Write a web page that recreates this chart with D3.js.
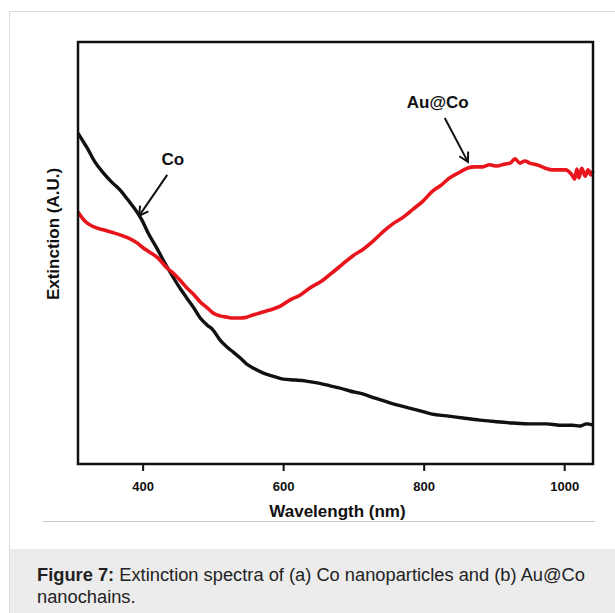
<!DOCTYPE html>
<head>
    <meta charset="utf-8">
    <script src="https://d3js.org/d3.v7.min.js"></script>
    <style>
      body { margin: 0; background: #fff; }
      text { font-family: "Liberation Sans", Arial, sans-serif; fill: #111; }
      .ticklabel { font-size: 13px; font-weight: bold; }
      .axistitle { font-size: 17px; font-weight: bold; }
      .annot { font-size: 17px; font-weight: bold; }
      .caption { font-size: 18.3px; fill: #222; }
    </style>
<body>
    <script>
        // wavelength (nm) and extinction (A.U.)
        var coWave = [308,315,321,332,344,356,368,379,392,399,408,420,430,440,453,463,472,482,492,500,510,520,529,539,548,560,571,584,600,617,631,642,655,667,681,695,713,731,748,762,778,795,812,833,856,880,904,927,951,975,994,1012,1022,1032,1041]
        var coExt = [0.784,0.765,0.749,0.716,0.690,0.668,0.649,0.626,0.597,0.578,0.547,0.512,0.481,0.452,0.417,0.393,0.372,0.346,0.329,0.318,0.294,0.277,0.265,0.251,0.237,0.225,0.216,0.209,0.201,0.199,0.197,0.194,0.190,0.185,0.180,0.173,0.166,0.156,0.147,0.140,0.133,0.126,0.118,0.114,0.109,0.104,0.100,0.097,0.095,0.095,0.092,0.092,0.090,0.095,0.092]

        var auWave = [308,318,329,344,356,368,380,392,401,410,422,435,443,453,463,472,482,492,500,510,520,529,539,548,557,567,581,596,610,624,638,657,671,685,699,714,728,742,756,771,785,799,813,825,837,852,862,873,883,894,904,916,923,930,937,944,951,961,973,984,994,1002,1011,1015,1018,1021,1025,1030,1034,1038,1041]
        var auExt = [0.597,0.575,0.563,0.555,0.549,0.543,0.535,0.524,0.512,0.502,0.488,0.464,0.453,0.436,0.417,0.403,0.384,0.370,0.358,0.351,0.348,0.346,0.346,0.348,0.353,0.358,0.365,0.374,0.389,0.400,0.417,0.436,0.455,0.474,0.493,0.509,0.528,0.550,0.569,0.585,0.604,0.623,0.647,0.661,0.678,0.692,0.701,0.704,0.704,0.709,0.706,0.711,0.713,0.723,0.713,0.718,0.713,0.709,0.701,0.697,0.697,0.697,0.685,0.675,0.699,0.678,0.701,0.682,0.697,0.685,0.695]

        var xTicks = [400, 600, 800, 1000]

        // annotations: label text, label anchor, arrow start, arrow tip (wavelength, A.U.)
        var labels = ["Co", "Au@Co"]
        var labelPos = [[443, 0.708], [820, 0.843]]
        var arrowFrom = [[435, 0.685], [830, 0.820]]
        var arrowTo = [[395, 0.588], [863, 0.716]]

        var svg = d3.select("body").append("svg")
          .attr("width", 615)
          .attr("height", 613)

        // card outline and caption panel
        svg.append("rect")
          .attr("x", 9.5).attr("y", 11.5)
          .attr("width", 700).attr("height", 700)
          .attr("fill", "none")
          .attr("stroke", "#dcdcdc")
        svg.append("rect")
          .attr("x", 10).attr("y", 549)
          .attr("width", 605).attr("height", 64)
          .attr("fill", "#ececec")
        svg.append("line")
          .attr("x1", 43).attr("x2", 595)
          .attr("y1", 521.5).attr("y2", 521.5)
          .attr("stroke", "#c8c8c8")

        var plotLeft = 78, plotRight = 593, plotTop = 42, plotBottom = 464

        var x = d3.scaleLinear().domain([308, 1041]).range([plotLeft, plotRight])
        var y = d3.scaleLinear().domain([0, 1]).range([plotBottom, plotTop])

        var line = d3.line()
          .x(function(d) { return x(d[0]) })
          .y(function(d) { return y(d[1]) })
          .curve(d3.curveMonotoneX)

        var plot = svg.append("g")

        plot.append("path")
          .datum(coWave.map(function(w, i) { return [w, coExt[i]] }))
          .attr("d", line)
          .attr("fill", "none")
          .attr("stroke", "#111")
          .attr("stroke-width", 3.4)
          .attr("stroke-linejoin", "round")

        plot.append("path")
          .datum(auWave.map(function(w, i) { return [w, auExt[i]] }))
          .attr("d", line)
          .attr("fill", "none")
          .attr("stroke", "#e8161c")
          .attr("stroke-width", 3.6)
          .attr("stroke-linejoin", "round")

        // frame
        svg.append("rect")
          .attr("x", plotLeft).attr("y", plotTop)
          .attr("width", plotRight - plotLeft).attr("height", plotBottom - plotTop)
          .attr("fill", "none")
          .attr("stroke", "#111")
          .attr("stroke-width", 2.5)

        var xAxis = svg.append("g")
          .attr("transform", "translate(0," + (plotBottom + 1) + ")")
          .call(d3.axisBottom(x).tickValues(xTicks).tickFormat(d3.format("d")).tickSize(6).tickPadding(11))
        xAxis.select(".domain").remove()
        xAxis.selectAll(".tick line").attr("stroke", "#111").attr("stroke-width", 2)
        xAxis.selectAll(".tick text")
          .classed("ticklabel", true)
          .attr("fill", null)
        xAxis.attr("font-family", null).attr("font-size", null)

        svg.append("text")
          .classed("axistitle", true)
          .attr("x", (plotLeft + plotRight) / 2 + 2)
          .attr("y", 517)
          .attr("text-anchor", "middle")
          .text("Wavelength (nm)")

        svg.append("text")
          .classed("axistitle", true)
          .attr("transform", "translate(59," + 234 + ") rotate(-90)")
          .attr("text-anchor", "middle")
          .text("Extinction (A.U.)")

        // arrow heads
        svg.append("defs").append("marker")
          .attr("id", "vhead")
          .attr("viewBox", "-10 -6 12 12")
          .attr("refX", 0).attr("refY", 0)
          .attr("markerWidth", 12).attr("markerHeight", 12)
          .attr("markerUnits", "userSpaceOnUse")
          .attr("orient", "auto")
          .append("path")
          .attr("d", "M-9,-5 L0,0 L-9,5")
          .attr("fill", "none")
          .attr("stroke", "#111")
          .attr("stroke-width", 2)

        labels.forEach(function(t, i) {
          svg.append("line")
            .attr("x1", x(arrowFrom[i][0])).attr("y1", y(arrowFrom[i][1]))
            .attr("x2", x(arrowTo[i][0])).attr("y2", y(arrowTo[i][1]))
            .attr("stroke", "#111")
            .attr("stroke-width", 2)
            .attr("marker-end", "url(#vhead)")
          svg.append("text")
            .classed("annot", true)
            .attr("x", x(labelPos[i][0]))
            .attr("y", y(labelPos[i][1]))
            .attr("text-anchor", "middle")
            .text(t)
        })

        // caption
        var cap = svg.append("text")
          .classed("caption", true)
          .attr("x", 37).attr("y", 581)
        cap.append("tspan").attr("font-weight", "bold").text("Figure 7:")
        cap.append("tspan").text(" Extinction spectra of (a) Co nanoparticles and (b) Au@Co")
        svg.append("text")
          .classed("caption", true)
          .attr("x", 37).attr("y", 603)
          .text("nanochains.")
    </script>
</body>
